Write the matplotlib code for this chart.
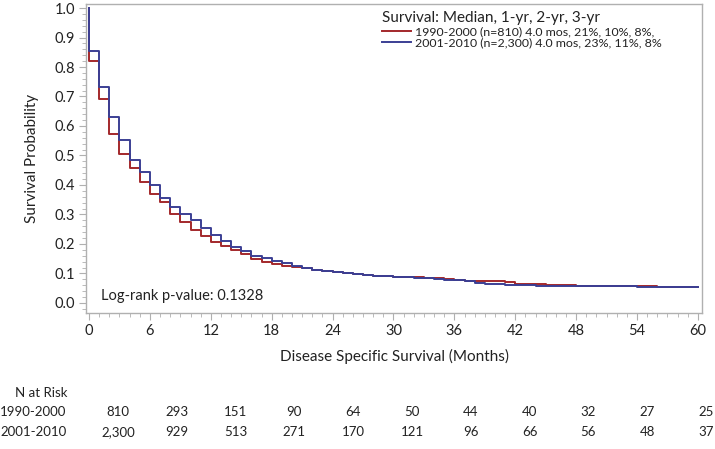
import numpy as np
import matplotlib
matplotlib.use("Agg")
import matplotlib.pyplot as plt
from matplotlib.ticker import MultipleLocator
from matplotlib.lines import Line2D

plt.rcParams['font.family'] = ['Lato', 'DejaVu Sans']

# ---- data ----
months = list(range(0, 61))
surv_1990 = [0.820, 0.690, 0.574, 0.506, 0.459, 0.411, 0.368, 0.343, 0.301, 0.276,
             0.249, 0.228, 0.206, 0.194, 0.180, 0.165, 0.149, 0.138, 0.131, 0.127,
             0.123, 0.118, 0.112, 0.107, 0.104, 0.100, 0.097, 0.095, 0.092, 0.090,
             0.089, 0.088, 0.087, 0.085, 0.083, 0.081, 0.079, 0.075, 0.074, 0.073,
             0.073, 0.072, 0.066, 0.065, 0.063, 0.062, 0.061, 0.060, 0.059, 0.059,
             0.058, 0.058, 0.057, 0.057, 0.056, 0.056, 0.055, 0.055, 0.054, 0.054]
surv_2001 = [0.855, 0.731, 0.629, 0.553, 0.485, 0.445, 0.399, 0.356, 0.324, 0.303,
             0.281, 0.255, 0.231, 0.210, 0.191, 0.176, 0.160, 0.151, 0.142, 0.135,
             0.127, 0.120, 0.113, 0.108, 0.104, 0.101, 0.098, 0.095, 0.092, 0.090,
             0.088, 0.087, 0.085, 0.083, 0.081, 0.079, 0.077, 0.073, 0.069, 0.066,
             0.063, 0.061, 0.060, 0.060, 0.059, 0.059, 0.058, 0.058, 0.058, 0.057,
             0.057, 0.056, 0.056, 0.056, 0.055, 0.055, 0.055, 0.054, 0.054, 0.054]
series_labels = ["1990-2000 (n=810) 4.0 mos, 21%, 10%, 8%,",
                 "2001-2010 (n=2,300) 4.0 mos, 23%, 11%, 8%"]
risk_groups = ["1990-2000", "2001-2010"]
risk_1990 = ["810", "293", "151", "90", "64", "50", "44", "40", "32", "27", "25"]
risk_2001 = ["2,300", "929", "513", "271", "170", "121", "96", "66", "56", "48", "37"]
x_ticks = list(range(0, 61, 6))

RED = "#a3282b"
BLUE = "#3b3f94"
GRAY = "#b0b0b0"
TXT = "#222222"

W, H = 715, 449
fig = plt.figure(figsize=(W / 100, H / 100), dpi=100)
L, R, T, B = 86, 702, 4, 313
ax = fig.add_axes([L / W, 1 - B / H, (R - L) / W, (B - T) / H])

def km(vals):
    x = [0, 0] + months[1:]
    y = [1.0] + vals + [vals[-1]]
    return x, y

x1, y1 = km(surv_1990)
x2, y2 = km(surv_2001)
ax.step(x1, y1, where='post', color=RED, lw=1.4)
ax.step(x2, y2, where='post', color=BLUE, lw=1.4)

ax.set_xlim(-0.3, 60.4)
ax.set_ylim(-0.034, 1.0136)
ax.set_xticks(x_ticks)
ax.xaxis.set_minor_locator(MultipleLocator(1))
ax.yaxis.set_major_locator(MultipleLocator(0.1))
ax.yaxis.set_minor_locator(MultipleLocator(0.02))
ax.yaxis.set_major_formatter(matplotlib.ticker.FormatStrFormatter('%.1f'))
for s in ax.spines.values():
    s.set_color(GRAY)
    s.set_linewidth(1.0)
ax.tick_params(axis='both', which='major', length=5, color=GRAY, labelsize=10.5,
               labelcolor=TXT, pad=3)
ax.tick_params(axis='both', which='minor', length=3, color=GRAY)
ax.set_xlabel("Disease Specific Survival (Months)", fontsize=11, color=TXT, labelpad=8)
ax.set_ylabel("Survival Probability", fontsize=11, color=TXT, labelpad=11)

ax.text(0.025, 0.055, "Log-rank p-value: 0.1328", transform=ax.transAxes,
        fontsize=10.5, color=TXT, va='center', ha='left')

handles = [Line2D([], [], color=RED, lw=1.4), Line2D([], [], color=BLUE, lw=1.4)]
leg = ax.legend(handles, series_labels, title="Survival: Median, 1-yr, 2-yr, 3-yr",
                loc='upper left', bbox_to_anchor=((375 - L) / (R - L), 1.0),
                frameon=False, fontsize=8.9, title_fontsize=11, alignment='left',
                handlelength=2.3, handletextpad=0.3, labelspacing=0.05,
                borderaxespad=0.2)
leg.get_title().set_color(TXT)
for t in leg.get_texts():
    t.set_color(TXT)

# risk table
def fy(py):
    return 1 - py / H

fig.text(15 / W, fy(393), "N at Risk", fontsize=9.5, va='center', ha='left', color=TXT)
row_y = [412, 432]
col_x = [118 + 58.8 * i for i in range(len(risk_1990))]
for gi, (grp, vals) in enumerate(zip(risk_groups, [risk_1990, risk_2001])):
    fig.text(0 / W, fy(row_y[gi]), grp, fontsize=9.5, va='center', ha='left', color=TXT)
    for cx, v in zip(col_x, vals):
        fig.text(cx / W, fy(row_y[gi]), v, fontsize=9.5, va='center', ha='center', color=TXT)

fig.savefig("out.png", dpi=100)
